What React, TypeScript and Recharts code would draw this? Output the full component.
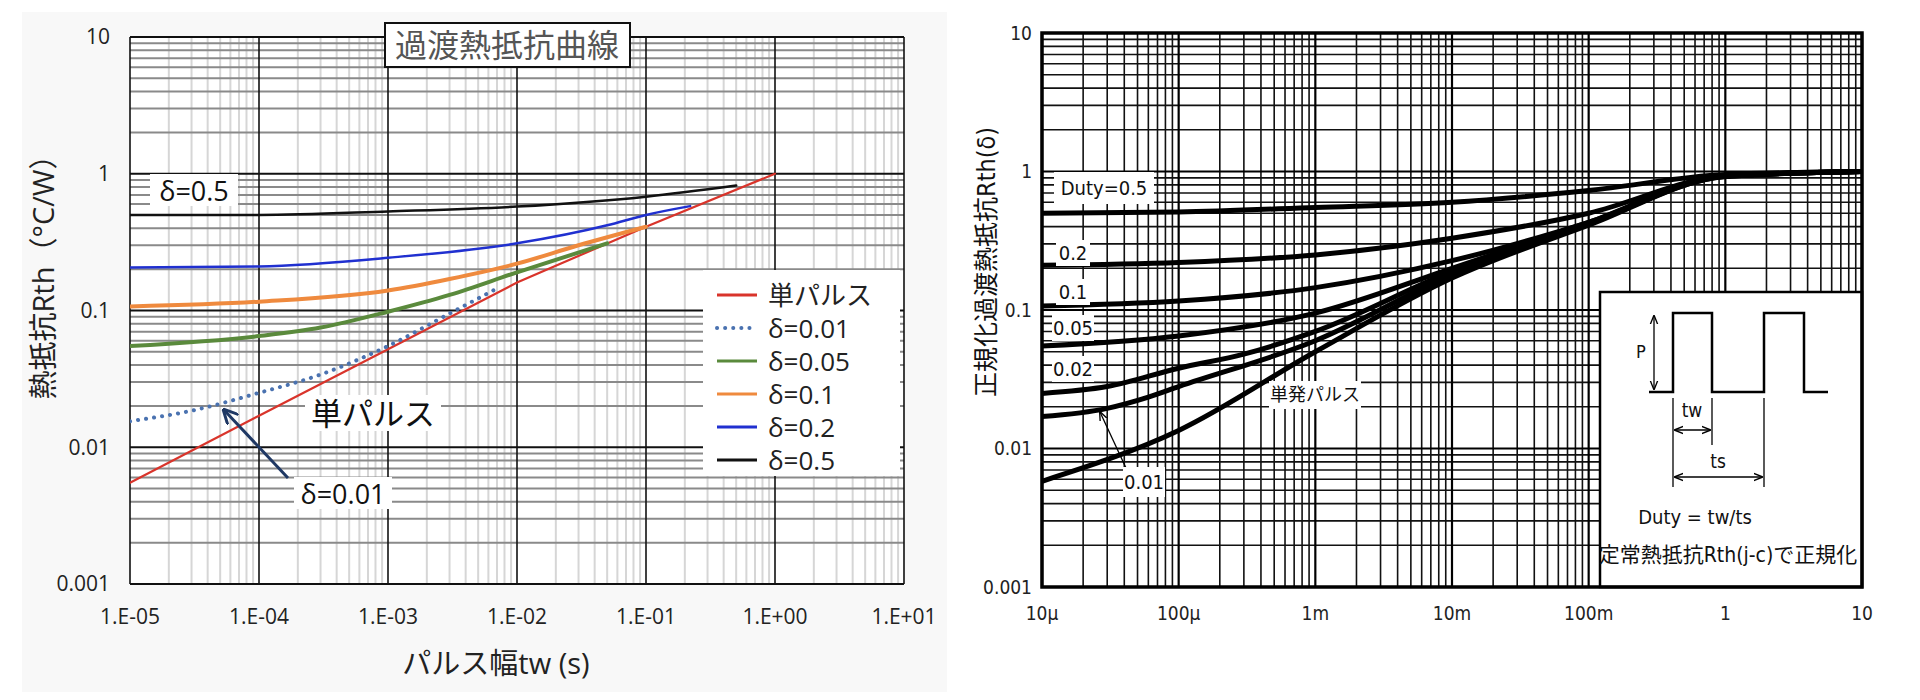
import React from "react";
import { LineChart, Line, XAxis, YAxis, CartesianGrid, Legend } from "recharts";

// axes
const X_TICKS = [1e-5, 1e-4, 1e-3, 1e-2, 1e-1, 1, 10];
const X_LABELS_LEFT = ["1.E-05", "1.E-04", "1.E-03", "1.E-02", "1.E-01", "1.E+00", "1.E+01"];
const X_LABELS_RIGHT = ["10µ", "100µ", "1m", "10m", "100m", "1", "10"];
const Y_TICKS = [0.001, 0.01, 0.1, 1, 10];
const Y_LABELS = ["0.001", "0.01", "0.1", "1", "10"];
const MINOR_STEPS = [2, 3, 4, 5, 6, 7, 8, 9];
const X_MINOR = X_TICKS.slice(0, -1).flatMap((d) => MINOR_STEPS.map((m) => d * m));
const Y_MINOR = Y_TICKS.slice(0, -1).flatMap((d) => MINOR_STEPS.map((m) => d * m));

// left chart: pulse width (s) vs thermal resistance
const L_SINGLE = [[1e-5, 0.0055], [1e-4, 0.017], [1e-3, 0.052], [1e-2, 0.16], [1e-1, 0.41], [1, 1]];
const L_D001 = [[1e-5, 0.0155], [3e-5, 0.0185], [1e-4, 0.025], [3e-4, 0.034], [1e-3, 0.055], [3e-3, 0.095], [7e-3, 0.145]];
const L_D005 = [[1e-5, 0.055], [1e-4, 0.065], [3e-4, 0.075], [1e-3, 0.098], [3e-3, 0.13], [1e-2, 0.19], [5e-2, 0.31]];
const L_D01 = [[1e-5, 0.107], [1e-4, 0.116], [1e-3, 0.14], [3e-3, 0.17], [1e-2, 0.22], [3e-2, 0.3], [1e-1, 0.41]];
const L_D02 = [[1e-5, 0.206], [1e-4, 0.21], [1e-3, 0.243], [1e-2, 0.31], [5e-2, 0.42], [1e-1, 0.5], [0.22, 0.58]];
const L_D05 = [[1e-5, 0.5], [1e-4, 0.5], [1e-3, 0.53], [1e-2, 0.575], [1e-1, 0.68], [0.5, 0.82]];

// right chart: normalised
const R_SINGLE = [[1e-5, 0.0058], [1e-4, 0.0135], [1e-3, 0.05], [1e-2, 0.17], [1e-1, 0.41], [1, 0.92], [10, 1.0]];
const R_D001 = [[1e-5, 0.017], [3e-5, 0.0195], [6e-5, 0.0235], [1e-4, 0.028], [1e-3, 0.06], [1e-2, 0.18], [1e-1, 0.42], [1, 0.92], [10, 1.0]];
const R_D002 = [[1e-5, 0.025], [3e-5, 0.028], [1e-4, 0.038], [3e-4, 0.048], [1e-3, 0.07], [1e-2, 0.19], [1e-1, 0.42], [1, 0.93], [10, 1.0]];
const R_D005 = [[1e-5, 0.055], [1e-4, 0.065], [1e-3, 0.095], [1e-2, 0.2], [1e-1, 0.43], [1, 0.93], [10, 1.0]];
const R_D01 = [[1e-5, 0.107], [1e-4, 0.116], [1e-3, 0.145], [1e-2, 0.227], [1e-1, 0.43], [1, 0.93], [10, 1.0]];
const R_D02 = [[1e-5, 0.21], [1e-4, 0.22], [1e-3, 0.25], [1e-2, 0.33], [1e-1, 0.5], [1, 0.93], [10, 1.0]];
const R_D05 = [[1e-5, 0.5], [1e-4, 0.51], [1e-3, 0.55], [1e-2, 0.6], [1e-1, 0.73], [1, 0.95], [10, 1.0]];

const toPts = (arr: number[][]) => arr.map(([x, y]) => ({ x, y }));

const LEFT_SERIES = [
  { name: "単パルス", data: L_SINGLE, color: "#d9342b", width: 2.2, dash: undefined, type: "linear" },
  { name: "δ=0.01", data: L_D001, color: "#4a72b0", width: 4, dash: "0.1 8", type: "monotone" },
  { name: "δ=0.05", data: L_D005, color: "#5a8a3c", width: 4, dash: undefined, type: "monotone" },
  { name: "δ=0.1", data: L_D01, color: "#ef8a3e", width: 4, dash: undefined, type: "monotone" },
  { name: "δ=0.2", data: L_D02, color: "#2030d0", width: 2.5, dash: undefined, type: "monotone" },
  { name: "δ=0.5", data: L_D05, color: "#111111", width: 2.5, dash: undefined, type: "monotone" },
];

const RIGHT_SERIES = [
  { name: "単発パルス", data: R_SINGLE },
  { name: "0.01", data: R_D001 },
  { name: "0.02", data: R_D002 },
  { name: "0.05", data: R_D005 },
  { name: "0.1", data: R_D01 },
  { name: "0.2", data: R_D02 },
  { name: "Duty=0.5", data: R_D05 },
];

const FONT_L = '"Open Sans", "Noto Sans CJK JP", sans-serif';
const FONT_R = '"DejaVu Sans Condensed", "DejaVu Sans", "Noto Sans CJK JP", sans-serif';
const NARROW = { fontStretch: "condensed" as const };

const fmt = (labels: string[], ticks: number[]) => (v: number) => {
  const i = ticks.findIndex((t) => Math.abs(Math.log10(t) - Math.log10(v)) < 1e-6);
  return i >= 0 ? labels[i] : "";
};

const LeftLegend = () => (
  <div style={{ background: "#fff", width: 197, height: 206, paddingTop: 8, boxSizing: "border-box", fontFamily: FONT_L }}>
    {LEFT_SERIES.map((s) => (
      <div key={s.name} style={{ display: "flex", alignItems: "center", height: 33, overflow: "hidden" }}>
        <svg width={56} height={10}>
          <line x1={14} x2={54} y1={5} y2={5} stroke={s.color} strokeWidth={s.dash ? 4 : 3}
            strokeDasharray={s.dash ? "0.1 8" : undefined} strokeLinecap={s.dash ? "round" : "butt"} />
        </svg>
        <span style={{ fontSize: 26, marginLeft: 9, color: "#222", lineHeight: "28px" }}>{s.name}</span>
      </div>
    ))}
  </div>
);

const Tag = ({ x, y, w, h, size, font, children, color = "#111", bg = "#fff", border, narrow }: any) => (
  <div style={{
    position: "absolute", left: x - w / 2, top: y - h / 2, width: w, height: h, background: bg,
    display: "flex", alignItems: "center", justifyContent: "center", fontSize: size, fontFamily: font,
    color, whiteSpace: "nowrap", border, boxSizing: "border-box", lineHeight: 1,
    fontStretch: narrow ? "condensed" : undefined,
  }}>{children}</div>
);

export default function App() {
  return (
    <div style={{ position: "absolute", left: 0, top: 0, width: 1920, height: 700, background: "#fff", overflow: "hidden" }}>
      <div style={{ position: "absolute", left: 22, top: 12, width: 925, height: 680, background: "#f8f8f8" }} />

      {/* left chart */}
      <div style={{ position: "absolute", left: 0, top: 0 }}>
        <LineChart width={960} height={700} margin={{ top: 37, right: 56, bottom: 0, left: 0 }}>
          <CartesianGrid horizontal={false} verticalValues={X_MINOR} stroke="#d6d6d6" strokeWidth={2} fill="#fff" />
          <CartesianGrid vertical={false} horizontalValues={Y_MINOR} stroke="#8a8a8a" strokeWidth={2} />
          <CartesianGrid horizontal={false} verticalValues={X_TICKS} stroke="#111" strokeWidth={1.6} />
          <CartesianGrid vertical={false} horizontalValues={Y_TICKS} stroke="#111" strokeWidth={2} />
          <XAxis type="number" dataKey="x" scale="log" domain={[1e-5, 10]} allowDataOverflow ticks={X_TICKS}
            tickFormatter={fmt(X_LABELS_LEFT, X_TICKS)} axisLine={false} tickLine={false} tickSize={0} tickMargin={25}
            height={116} interval={0} tick={{ fontSize: 21, fill: "#222", fontFamily: FONT_L }} />
          <YAxis type="number" dataKey="y" scale="log" domain={[0.001, 10]} allowDataOverflow ticks={Y_TICKS}
            tickFormatter={fmt(Y_LABELS, Y_TICKS)} axisLine={false} tickLine={false} tickSize={0} tickMargin={20}
            width={130} interval={0} tick={{ fontSize: 21, fill: "#222", fontFamily: FONT_L }} />
          <Legend layout="vertical" align="center" verticalAlign="middle" content={() => <LeftLegend />}
            wrapperStyle={{ position: "absolute", left: 703, top: 270, width: 197, height: 206 }} />
          {LEFT_SERIES.map((s) => (
            <Line key={s.name} name={s.name} data={toPts(s.data)} dataKey="y" type={s.type as any} stroke={s.color}
              strokeWidth={s.width} strokeDasharray={s.dash} strokeLinecap="round" dot={false} activeDot={false}
              isAnimationActive={false} />
          ))}
        </LineChart>
      </div>

      {/* right chart */}
      <div style={{ position: "absolute", left: 960, top: 0 }}>
        <LineChart width={960} height={700} margin={{ top: 33, right: 58, bottom: 0, left: 0 }}>
          <CartesianGrid horizontal={false} verticalValues={X_MINOR} stroke="#111" strokeWidth={1.6} fill="#fff" />
          <CartesianGrid vertical={false} horizontalValues={Y_MINOR} stroke="#111" strokeWidth={1.6} />
          <CartesianGrid horizontal={false} verticalValues={X_TICKS} stroke="#000" strokeWidth={2.2} />
          <CartesianGrid vertical={false} horizontalValues={Y_TICKS} stroke="#000" strokeWidth={2.2} />
          <XAxis type="number" dataKey="x" scale="log" domain={[1e-5, 10]} allowDataOverflow ticks={X_TICKS}
            tickFormatter={fmt(X_LABELS_RIGHT, X_TICKS)} axisLine={false} tickLine={false} tickSize={0} tickMargin={20}
            height={113} interval={0} tick={{ fontSize: 19, fill: "#222", fontFamily: FONT_R, style: NARROW }} />
          <YAxis type="number" dataKey="y" scale="log" domain={[0.001, 10]} allowDataOverflow ticks={Y_TICKS}
            tickFormatter={fmt(Y_LABELS, Y_TICKS)} axisLine={false} tickLine={false} tickSize={0} tickMargin={10}
            width={82} interval={0} tick={{ fontSize: 19, fill: "#222", fontFamily: FONT_R, style: NARROW }} />
          {RIGHT_SERIES.map((s) => (
            <Line key={s.name} name={s.name} data={toPts(s.data)} dataKey="y" type="monotone" stroke="#000"
              strokeWidth={5} strokeLinecap="round" dot={false} activeDot={false} isAnimationActive={false} />
          ))}
        </LineChart>
      </div>

      {/* annotations */}
      <svg width={1920} height={700} style={{ position: "absolute", left: 0, top: 0, pointerEvents: "none" }}>
        <defs>
          <marker id="arrNavy" viewBox="0 0 10 10" refX="9" refY="5" markerWidth="5" markerHeight="5" orient="auto-start-reverse">
            <path d="M0,0 L10,5 L0,10" fill="none" stroke="#1f3864" strokeWidth={2} />
          </marker>
          <marker id="arrBlk" viewBox="0 0 10 10" refX="9" refY="5" markerWidth="7" markerHeight="7" orient="auto-start-reverse">
            <path d="M0,1 L10,5 L0,9" fill="none" stroke="#000" strokeWidth={1.5} />
          </marker>
        </defs>
        <line x1={288} y1={478} x2={224} y2={410} stroke="#1f3864" strokeWidth={3} markerEnd="url(#arrNavy)" />
        <line x1={1126} y1={468} x2={1100} y2={412} stroke="#000" strokeWidth={1.3} markerEnd="url(#arrBlk)" />

        {/* inset */}
        <rect x={1600} y={292} width={262} height={295} fill="#fff" stroke="#000" strokeWidth={2.5} />
        <polyline points="1649,392 1673,392 1673,313 1712,313 1712,392 1764,392 1764,313 1804,313 1804,392 1828,392"
          fill="none" stroke="#000" strokeWidth={2.5} />
        <line x1={1654} y1={316} x2={1654} y2={389} stroke="#000" strokeWidth={1.3} markerStart="url(#arrBlk)" markerEnd="url(#arrBlk)" />
        <g fontFamily={FONT_R} style={NARROW} textAnchor="middle" dominantBaseline="middle" fill="#111">
          <text x={1641} y={353} fontSize={18}>P</text>
          <text x={1692} y={411} fontSize={19}>tw</text>
          <text x={1718} y={462} fontSize={19}>ts</text>
          <text x={1695} y={518} fontSize={20}>Duty = tw/ts</text>
          <text x={1728} y={556} fontSize={21}>定常熱抵抗Rth(j-c)で正規化</text>
        </g>
        <line x1={1673} y1={398} x2={1673} y2={487} stroke="#000" strokeWidth={1.3} />
        <line x1={1712} y1={398} x2={1712} y2={445} stroke="#000" strokeWidth={1.3} />
        <line x1={1764} y1={398} x2={1764} y2={487} stroke="#000" strokeWidth={1.3} />
        <line x1={1675} y1={430} x2={1710} y2={430} stroke="#000" strokeWidth={1.3} markerStart="url(#arrBlk)" markerEnd="url(#arrBlk)" />
        <line x1={1675} y1={477} x2={1762} y2={477} stroke="#000" strokeWidth={1.3} markerStart="url(#arrBlk)" markerEnd="url(#arrBlk)" />

        <rect x={1042} y={33} width={820} height={554} fill="none" stroke="#000" strokeWidth={3.5} />

        {/* axis titles */}
        <text x={496} y={666} fontSize={29} fontFamily={FONT_L} fill="#222" textAnchor="middle" dominantBaseline="middle">パルス幅tw (s)</text>
        <text transform="translate(46,270) rotate(-90)" fontSize={29} fontFamily={FONT_L} fill="#222" textAnchor="middle" dominantBaseline="middle">熱抵抗Rth（°C/W）</text>
        <text transform="translate(988,262) rotate(-90)" fontSize={25} fontFamily={FONT_R} style={NARROW} fill="#111" textAnchor="middle" dominantBaseline="middle">正規化過渡熱抵抗Rth(δ)</text>
      </svg>

      {/* text labels */}
      <Tag x={507} y={45} w={247} h={46} size={32} font={FONT_L} color="#555" border="2px solid #111">過渡熱抵抗曲線</Tag>
      <Tag x={194} y={190} w={88} h={32} size={27} font={FONT_L}>δ=0.5</Tag>
      <Tag x={373} y={413} w={136} h={36} size={31} font={FONT_L}>単パルス</Tag>
      <Tag x={343} y={493} w={98} h={32} size={27} font={FONT_L}>δ=0.01</Tag>

      <Tag x={1104} y={188} w={100} h={32} size={20} font={FONT_R} narrow>Duty=0.5</Tag>
      <Tag x={1073} y={253} w={34} h={26} size={20} font={FONT_R} narrow>0.2</Tag>
      <Tag x={1073} y={292} w={34} h={26} size={20} font={FONT_R} narrow>0.1</Tag>
      <Tag x={1073} y={328} w={42} h={26} size={20} font={FONT_R} narrow>0.05</Tag>
      <Tag x={1073} y={369} w={42} h={26} size={20} font={FONT_R} narrow>0.02</Tag>
      <Tag x={1144} y={482} w={42} h={30} size={20} font={FONT_R} narrow>0.01</Tag>
      <Tag x={1315} y={395} w={92} h={28} size={18} font={FONT_R} narrow>単発パルス</Tag>
    </div>
  );
}
